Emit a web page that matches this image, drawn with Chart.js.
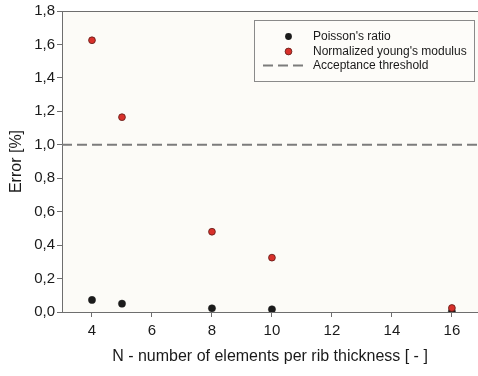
<!DOCTYPE html>
<html>
<head>
<meta charset="utf-8">
<script src="https://cdn.jsdelivr.net/npm/chart.js@4.4.1/dist/chart.umd.min.js"></script>
<style>
  html, body { margin: 0; padding: 0; background: #ffffff; }
  #wrap { width: 478px; height: 376px; position: relative; }
</style>
</head>
<body>
<div id="wrap"><canvas id="c" width="478" height="376"></canvas></div>
<script>
// ---- data ----
const nElements = [4, 5, 8, 10, 16];
const poissonError = [0.072, 0.050, 0.022, 0.016, 0.002];
const youngError = [1.625, 1.165, 0.480, 0.325, 0.024];
const thresholdValue = 1.0;
const xTickValues = [4, 6, 8, 10, 12, 14, 16];
const yTickValues = [0, 0.2, 0.4, 0.6, 0.8, 1.0, 1.2, 1.4, 1.6, 1.8];
const xMin = 3, xMax = 16.87, yMin = 0, yMax = 1.8;
const labels = ["Poisson's ratio", "Normalized young's modulus", "Acceptance threshold"];

const FONT = "'Liberation Sans', Arial, Helvetica, sans-serif";
const AXIS = '#6e6e6e';

const toPts = (xs, ys) => xs.map((x, i) => ({ x: x, y: ys[i] }));

const bgPlugin = {
  id: 'bg',
  beforeDraw(chart) {
    const { ctx, chartArea: a } = chart;
    ctx.save();
    ctx.fillStyle = '#fcfbf7';
    ctx.fillRect(a.left, a.top, a.right - a.left, a.bottom - a.top);
    ctx.restore();
  },
  afterDraw(chart) {
    const { ctx, chartArea: a } = chart;
    ctx.save();
    ctx.strokeStyle = AXIS;
    ctx.lineWidth = 1;
    ctx.beginPath();
    ctx.moveTo(a.left, a.top + 0.5);
    ctx.lineTo(a.right, a.top + 0.5);
    ctx.stroke();
    // legend
    const bx = 254.5, by = 20.5, bw = 220, bh = 61;
    ctx.fillStyle = '#fdfcf9';
    ctx.fillRect(bx, by, bw, bh);
    ctx.strokeStyle = '#8a8a8a';
    ctx.strokeRect(bx, by, bw, bh);
    const rows = [36.5, 51.5, 65.5];
    ctx.font = '12px ' + FONT;
    ctx.textBaseline = 'middle';
    ctx.textAlign = 'left';
    const ds = chart.data.datasets;
    ctx.beginPath(); ctx.arc(288.5, rows[0], 3.4, 0, Math.PI * 2);
    ctx.fillStyle = ds[1].backgroundColor; ctx.fill();
    ctx.beginPath(); ctx.arc(288.5, rows[1], 3.4, 0, Math.PI * 2);
    ctx.fillStyle = ds[0].backgroundColor; ctx.fill();
    ctx.lineWidth = 0.8; ctx.strokeStyle = ds[0].borderColor; ctx.stroke();
    ctx.beginPath();
    ctx.setLineDash([10, 5]);
    ctx.lineWidth = 2; ctx.strokeStyle = ds[2].borderColor;
    ctx.moveTo(263, rows[2]); ctx.lineTo(303, rows[2]); ctx.stroke();
    ctx.setLineDash([]);
    ctx.fillStyle = '#1a1a1a';
    ctx.fillText(labels[0], 313, rows[0]);
    ctx.fillText(labels[1], 313, rows[1]);
    ctx.fillText(labels[2], 313, rows[2]);
    ctx.restore();
  }
};

new Chart(document.getElementById('c'), {
  type: 'scatter',
  data: {
    datasets: [
      {
        label: labels[1],
        data: toPts(nElements, youngError),
        backgroundColor: '#d8302a',
        borderColor: '#5c1a16',
        borderWidth: 0.8,
        pointRadius: 3.4,
        order: 0
      },
      {
        label: labels[0],
        data: toPts(nElements, poissonError),
        backgroundColor: '#1b1b1b',
        borderColor: '#1b1b1b',
        borderWidth: 0.5,
        pointRadius: 3.6,
        order: 1
      },
      {
        type: 'line',
        label: labels[2],
        data: [{ x: xMin, y: thresholdValue }, { x: xMax, y: thresholdValue }],
        borderColor: '#7c7c7c',
        borderWidth: 2,
        borderDash: [10, 5],
        pointRadius: 0,
        fill: false,
        order: 2
      }
    ]
  },
  options: {
    responsive: false,
    animation: false,
    events: [],
    layout: { autoPadding: false, padding: { top: 11, right: 0, left: 0, bottom: 0 } },
    plugins: { legend: { display: false }, tooltip: { enabled: false } },
    scales: {
      x: {
        type: 'linear',
        min: xMin, max: xMax,
        afterBuildTicks(scale) { scale.ticks = xTickValues.map(v => ({ value: v })); },
        afterFit(scale) { scale.height = 64; },
        ticks: { color: '#1a1a1a', font: { family: FONT, size: 15 }, padding: 5, maxRotation: 0, autoSkip: false },
        grid: { drawOnChartArea: false, drawTicks: true, tickLength: 5, color: AXIS },
        border: { display: true, color: AXIS, width: 1 },
        title: {
          display: true,
          text: 'N - number of elements per rib thickness [ - ]',
          color: '#1a1a1a',
          font: { family: FONT, size: 16 },
          padding: { top: 0, bottom: 10 }
        }
      },
      y: {
        type: 'linear',
        min: yMin, max: yMax,
        afterBuildTicks(scale) { scale.ticks = yTickValues.map(v => ({ value: v })); },
        afterFit(scale) { scale.width = 62; },
        ticks: {
          color: '#1a1a1a', font: { family: FONT, size: 15 }, padding: 2, autoSkip: false,
          callback: v => v.toFixed(1).replace('.', ',')
        },
        grid: { drawOnChartArea: false, drawTicks: true, tickLength: 5, color: AXIS },
        border: { display: true, color: AXIS, width: 1 },
        title: {
          display: true,
          text: 'Error [%]',
          color: '#1a1a1a',
          font: { family: FONT, size: 16 },
          padding: { top: 7, bottom: 0 }
        }
      }
    }
  },
  plugins: [bgPlugin]
});
</script>
</body>
</html>
